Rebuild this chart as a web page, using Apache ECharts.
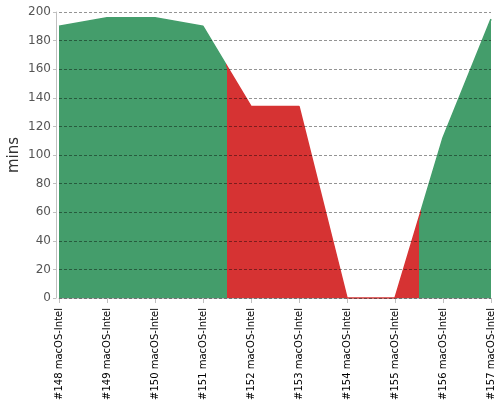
<!DOCTYPE html>
<html>
<head>
<meta charset="utf-8">
<style>html,body{margin:0;padding:0;background:#fff;}#c{width:500px;height:400px;}</style>
<script src="https://cdn.jsdelivr.net/npm/echarts@6/dist/echarts.min.js"></script>
</head>
<body>
<div id="c"></div>
<script>
const categories = ['#148 macOS-Intel','#149 macOS-Intel','#150 macOS-Intel','#151 macOS-Intel','#152 macOS-Intel','#153 macOS-Intel','#154 macOS-Intel','#155 macOS-Intel','#156 macOS-Intel','#157 macOS-Intel'];
const durations = [190, 196, 196, 190, 134, 134, 0, 0, 112, 195];
const status = ['pass','pass','pass','pass','fail','fail','fail','fail','pass','pass'];
const yTicks = [0, 20, 40, 60, 80, 100, 120, 140, 160, 180, 200];

const colors = { pass: '#449d6b', fail: '#d63333' };
// colour changes half-way between two builds of different status
const n = status.length;
const stops = [{ offset: 0, color: colors[status[0]] }];
for (let i = 1; i < n; i++) {
  if (status[i] !== status[i - 1]) {
    const off = (i - 0.5) / (n - 1);
    stops.push({ offset: off, color: colors[status[i - 1]] });
    stops.push({ offset: off, color: colors[status[i]] });
  }
}
stops.push({ offset: 1, color: colors[status[n - 1]] });
const fill = () => new echarts.graphic.LinearGradient(0, 0, 1, 0, stops.map(s => Object.assign({}, s)));

const chart = echarts.init(document.getElementById('c'));
chart.setOption({
  animation: false,
  textStyle: { fontFamily: 'DejaVu Sans' },
  grid: { left: 59, right: 9, top: 12, bottom: 102, outerBoundsMode: 'none', containLabel: false },
  xAxis: {
    type: 'category', data: categories, boundaryGap: false, offset: 4,
    axisLine: { lineStyle: { color: '#c0c0c0', width: 1 } },
    axisTick: { show: true, length: 5, lineStyle: { color: '#c0c0c0' } },
    axisLabel: { rotate: 90, fontSize: 10, color: '#000', margin: 6, interval: 0, fontFamily: 'DejaVu Sans' },
    splitLine: { show: false }
  },
  yAxis: {
    type: 'value', min: yTicks[0], max: yTicks[yTicks.length - 1], interval: yTicks[1] - yTicks[0], offset: 3, z: 5,
    name: 'mins', nameLocation: 'middle', nameGap: 34, nameMoveOverlap: false,
    nameTextStyle: { fontSize: 15, color: '#333', fontFamily: 'DejaVu Sans' },
    axisLine: { show: true, lineStyle: { color: '#c0c0c0', width: 1 } },
    axisTick: { show: true, length: 3, lineStyle: { color: '#c0c0c0' } },
    axisLabel: { fontSize: 12, color: '#555', margin: 5, fontFamily: 'DejaVu Sans' },
    splitLine: { show: true, lineStyle: { color: 'rgba(0,0,0,0.42)', type: [3, 2], width: 1 } }
  },
  series: [{
    type: 'line', data: durations, symbol: 'none', smooth: false,
    lineStyle: { width: 1.5, color: fill() },
    itemStyle: { color: colors.pass },
    areaStyle: { opacity: 1, color: fill() }
  }]
});
</script>
</body>
</html>
